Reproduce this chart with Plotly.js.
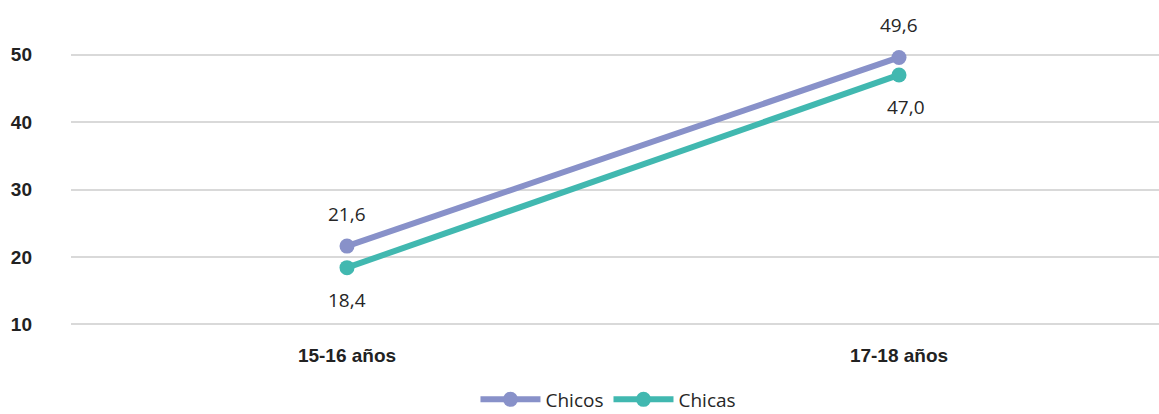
<!DOCTYPE html>
<html><head><meta charset="utf-8">
<script src="https://cdn.plot.ly/plotly-3.0.1.min.js"></script>
<style>html,body{margin:0;padding:0;background:#fff}#c{width:1159px;height:414px}</style>
</head><body><div id="c"></div>
<script>
const categories = ["15-16 años", "17-18 años"];
const chicos = [21.6, 49.6];
const chicas = [18.4, 47.0];
const chicosLabels = ["21,6", "49,6"];
const chicasLabels = ["18,4", "47,0"];
const yTicks = [10, 20, 30, 40, 50];

const cChicos = "#8891C9", cChicas = "#41B8B0";
const labelFont = {family: "Open Sans, Noto Sans, sans-serif", size: 19, color: "#262626"};
const boldFont = "Liberation Sans Narrow, Arial Narrow, Liberation Sans, sans-serif";

const traces = [
  {x: categories, y: chicos, name: "Chicos", type: "scatter", mode: "lines+markers",
   line: {color: cChicos, width: 6}, marker: {color: cChicos, size: 15}, cliponaxis: false},
  {x: categories, y: chicas, name: "Chicas", type: "scatter", mode: "lines+markers",
   line: {color: cChicas, width: 6}, marker: {color: cChicas, size: 15}, cliponaxis: false}
];
const annotations = [];
categories.forEach((c, i) => {
  annotations.push({x: c, y: chicos[i], text: chicosLabels[i], showarrow: false, yshift: 32, font: labelFont});
  annotations.push({x: c, y: chicas[i], text: chicasLabels[i], showarrow: false, yshift: -32, xshift: i === 1 ? 7 : 0, font: labelFont});
});

Plotly.newPlot("c", traces, {
  width: 1159, height: 414,
  margin: {l: 71, r: 0, t: 48, b: 83},
  paper_bgcolor: "#fff", plot_bgcolor: "#fff",
  showlegend: true,
  legend: {orientation: "h", x: 0.525, xanchor: "center", xref: "container", y: 0.035, yanchor: "middle", yref: "container",
           font: {family: "Open Sans, Noto Sans, sans-serif", size: 19, color: "#262626"}, itemwidth: 60, tracegroupgap: 0},
  xaxis: {type: "category", range: [-0.5, 1.471], showgrid: false, zeroline: false, showline: false,
          ticks: "", ticklabelstandoff: 11,
          tickfont: {family: boldFont, size: 19, color: "#222", weight: "bold"}},
  yaxis: {range: [9, 51], tickvals: yTicks, ticktext: yTicks.map(String), showgrid: true, gridcolor: "#D9D9D9", gridwidth: 2,
          zeroline: false, showline: false, ticks: "", ticklabelstandoff: 38,
          tickfont: {family: boldFont, size: 19, color: "#222", weight: "bold"}},
  annotations: annotations
}, {displayModeBar: false, staticPlot: true});
</script></body></html>
